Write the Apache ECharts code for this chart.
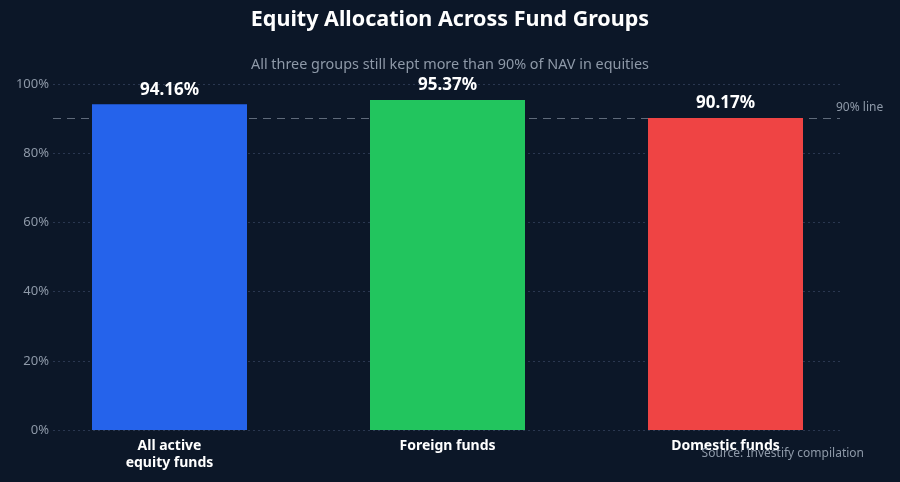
<!DOCTYPE html>
<html>
<head>
<meta charset="utf-8">
<script src="https://cdn.jsdelivr.net/npm/echarts@6/dist/echarts.min.js"></script>
<style>
html,body{margin:0;padding:0;background:#0c1728;}
#chart{width:900px;height:482px;}
</style>
</head>
<body>
<div id="chart"></div>
<script>
const categories = ['All active\nequity funds', 'Foreign funds', 'Domestic funds'];
const equityShare = [94.16, 95.37, 90.17];
const barColors = ['#2563eb', '#22c55e', '#ef4444'];
const yTicks = [0, 20, 40, 60, 80, 100];
const thresholdValue = 90;
const thresholdLabel = '90% line';

const chart = echarts.init(document.getElementById('chart'));
const fontFamily = '"Noto Sans", "Open Sans", sans-serif';
const option = {
  backgroundColor: '#0c1728',
  textStyle: { fontFamily: fontFamily },
  title: [
    { text: 'Equity Allocation Across Fund Groups', left: 'center', top: 4,
      textStyle: { color: '#ffffff', fontSize: 21.5, fontWeight: 'bold', fontFamily: fontFamily } },
    { text: 'All three groups still kept more than 90% of NAV in equities', left: 'center', top: 53,
      textStyle: { color: '#8e99a8', fontSize: 14.4, fontWeight: 'normal', fontFamily: fontFamily } },
    { text: 'Source: Investify compilation', right: 31, top: 443,
      textStyle: { color: '#8e99a8', fontSize: 12, fontWeight: 'normal', fontFamily: fontFamily } }
  ],
  grid: [
    { left: 53, right: 60, top: 84, bottom: 52 },
    { left: 30.5, right: 35.5, top: 84, bottom: 52 }
  ],
  xAxis: [
    { type: 'category', gridIndex: 0, data: categories, show: false },
    { type: 'category', gridIndex: 1, data: categories,
      axisLine: { show: false }, axisTick: { show: false },
      axisLabel: { color: '#ffffff', fontSize: 14, fontWeight: 'bold', margin: 8, lineHeight: 17, interval: 0 } }
  ],
  yAxis: [
    { type: 'value', gridIndex: 0, min: yTicks[0], max: yTicks[yTicks.length - 1], interval: 20,
      axisLine: { show: false }, axisTick: { show: false },
      axisLabel: { color: '#8e99a8', fontSize: 13, margin: 4, formatter: v => v + '%' },
      splitLine: { show: true, lineStyle: { color: '#2a3750', type: [2, 3], width: 1 } } },
    { type: 'value', gridIndex: 1, min: yTicks[0], max: yTicks[yTicks.length - 1], show: false,
      splitLine: { show: false } }
  ],
  series: [
    { type: 'line', xAxisIndex: 0, yAxisIndex: 0, data: [], silent: true, z: 1,
      markLine: {
        symbol: 'none', silent: true, z: 1,
        lineStyle: { color: '#5f6a7a', type: [8, 6], width: 1.2 },
        label: { show: true, position: 'end', formatter: thresholdLabel, color: '#8e99a8', fontSize: 12, distance: [-4, 0], offset: [0, -11] },
        data: [{ yAxis: thresholdValue }]
      } },
    { type: 'bar', xAxisIndex: 1, yAxisIndex: 1, barWidth: 155, z: 5,
      data: equityShare.map((v, i) => ({ value: v, itemStyle: { color: barColors[i] } })),
      label: { show: true, position: 'top', distance: 6, color: '#ffffff', fontSize: 17, fontWeight: 'bold',
        formatter: p => p.value.toFixed(2) + '%' } }
  ]
};
chart.setOption(option);
</script>
</body>
</html>
